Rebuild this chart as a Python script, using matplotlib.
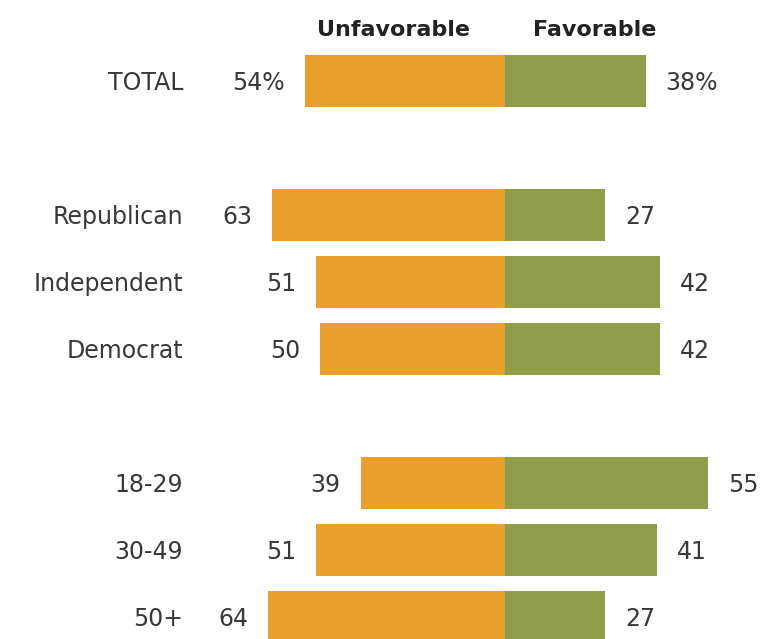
import matplotlib.pyplot as plt

groups = ["TOTAL", "Republican", "Independent", "Democrat", "18-29", "30-49", "50+"]
unfavorable = [54, 63, 51, 50, 39, 51, 64]
favorable = [38, 27, 42, 42, 55, 41, 27]
rows = [0, 2, 3, 4, 6, 7, 8]

orange = "#EA9F2D"
green = "#8F9C48"
text_col = "#383838"

fig = plt.figure(figsize=(7.65, 6.39), dpi=100)
ax = fig.add_axes([0, 0, 1, 1])

ax.barh(rows, [-u for u in unfavorable], height=0.78, color=orange, linewidth=0)
ax.barh(rows, favorable, height=0.78, color=green, linewidth=0)

pad = 5.4
for i, (g, u, f, r) in enumerate(zip(groups, unfavorable, favorable, rows)):
    suffix = "%" if i == 0 else ""
    ty = r + 0.03
    ax.text(-87, ty, g, ha="right", va="center", fontsize=17, color=text_col)
    ax.text(-u - pad, ty, f"{u}{suffix}", ha="right", va="center",
            fontsize=17, color=text_col)
    ax.text(f + pad, ty, f"{f}{suffix}", ha="left", va="center",
            fontsize=17, color=text_col)

ax.text(-30, -0.76, "Unfavorable", ha="center", va="center", fontsize=16,
        fontweight="bold", color="#222222")
ax.text(24.3, -0.76, "Favorable", ha="center", va="center", fontsize=16,
        fontweight="bold", color="#222222")

ax.set_xlim(-136.5, 70.3)
ax.set_ylim(8.33, -1.21)
ax.axis("off")

fig.savefig("out.png", dpi=100, facecolor="white")
